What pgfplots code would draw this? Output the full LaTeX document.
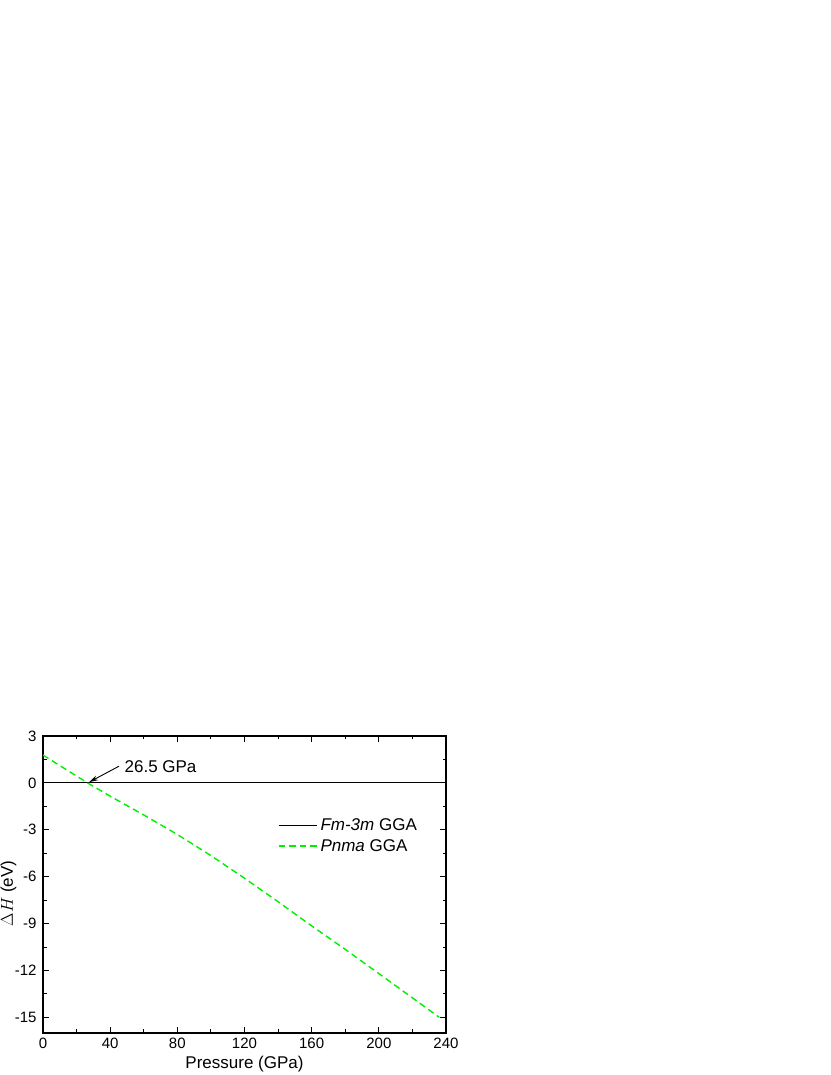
\documentclass[border=0pt]{standalone}
\usepackage{pgfplots}
\pgfplotsset{compat=1.18}
\usepackage{fontspec}
\setmainfont{Liberation Sans}
\usetikzlibrary{arrows.meta}
\definecolor{lgreen}{RGB}{0,240,0}
\begin{document}
\begin{tikzpicture}
\useasboundingbox (0,0) rectangle (830pt,1075pt);
\begin{axis}[
  at={(43pt,42pt)}, anchor=south west,
  scale only axis, width=403pt, height=297pt,
  xmin=0, xmax=240, ymin=-16, ymax=3,
  xtick={0,40,...,240}, minor x tick num=1,
  ytick={-15,-12,-9,-6,-3,0,3}, minor y tick num=1,
  tick align=inside, major tick length=6pt, minor tick length=3.5pt,
  axis line style={line width=1.1pt},
  every tick/.style={line width=0.9pt, black},
  /pgf/number format/assume math mode=true,
  ticklabel style={font=\fontsize{15}{17}\selectfont},
  yticklabel style={xshift=-3pt},
  xticklabel style={yshift=-1pt},
  xlabel={Pressure (GPa)},
  ylabel={\fontsize{17}{20}\selectfont$\Delta H$ (eV)},
  label style={font=\fontsize{17}{20}\selectfont},
  xlabel style={at={(axis description cs:0.5,0)}, anchor=north, yshift=-20pt},
  ylabel style={at={(axis description cs:0,0.47)}, anchor=south, yshift=23pt},
  legend style={draw=none, fill=none, at={(0.578,0.738)}, anchor=north west,
    font=\fontsize{17}{20}\selectfont, row sep=1pt, inner sep=2pt,
    nodes={font=\fontsize{17}{20}\selectfont, inner sep=3pt}},
  legend cell align=left,
  legend image code/.code={\draw[#1] (0pt,0pt) -- (38pt,0pt);},
]
\addplot[black, line width=1.2pt] coordinates {(0,0) (240,0)};
\addlegendentry{\textit{Fm-3m} GGA}
\addplot[lgreen, line width=1.4pt, dash pattern=on 6.5pt off 4pt] coordinates {
(0,1.78) (26.5,0) (40,-0.85) (60,-2.05) (80,-3.3) (100,-4.65) (120,-6.1)
(140,-7.6) (160,-9.15) (180,-10.65) (200,-12.2) (220,-13.75) (236,-15.0)};
\addlegendentry{\textit{Pnma} GGA}
\draw[line width=0.9pt, -{Stealth[length=9pt,width=5pt]}] (axis cs:45.3,1.07) -- (axis cs:27.5,0.05);
\node[anchor=west, font=\fontsize{17}{20}\selectfont, inner sep=0pt] at (axis cs:48.5,1.02) {26.5 GPa};
\end{axis}
\end{tikzpicture}
\end{document}
